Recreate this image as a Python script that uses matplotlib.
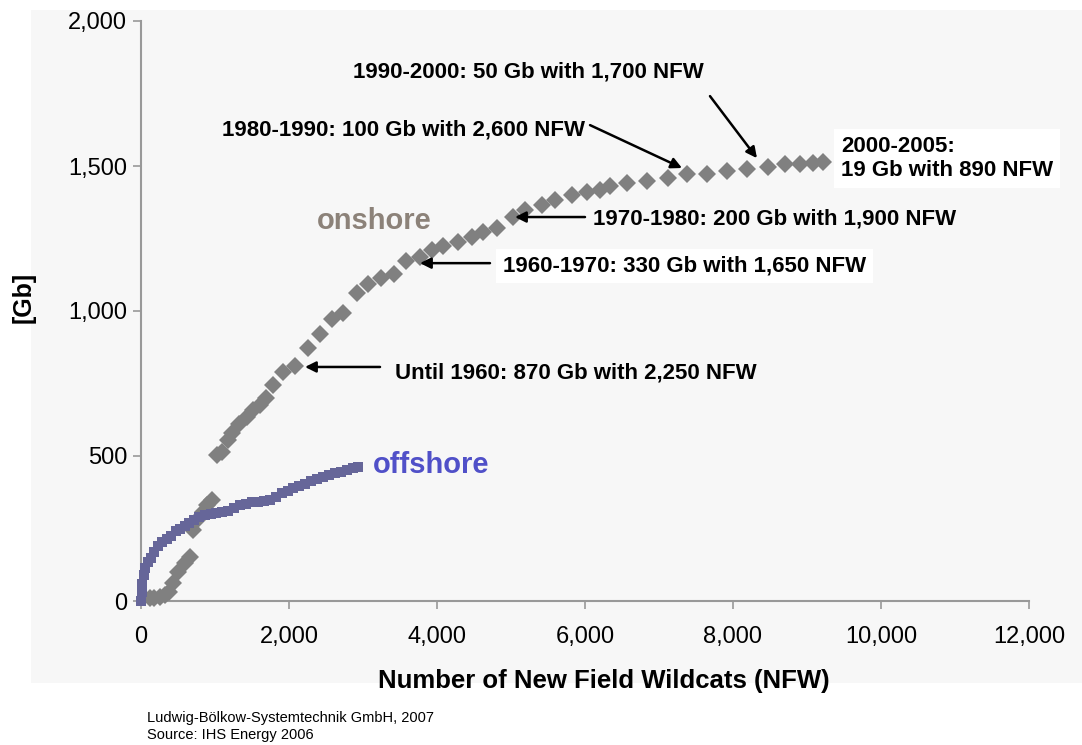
import matplotlib.pyplot as plt
from matplotlib.patches import Rectangle
from matplotlib.ticker import FuncFormatter

plt.rcParams['font.family'] = ['Liberation Sans', 'DejaVu Sans']

# Cumulative discovered volume [Gb] against cumulative new field wildcats
onshore_nfw = [120, 180, 250, 320, 380, 432, 500, 594, 662, 703, 757, 838, 892, 959,
               1027, 1094, 1175, 1230, 1330, 1432, 1513, 1608, 1689, 1784, 1918, 2081,
               2256, 2418, 2581, 2729, 2918, 3067, 3243, 3418, 3580, 3769, 3931, 4080,
               4283, 4472, 4620, 4810, 5026, 5188, 5418, 5593, 5823, 6025, 6201, 6340,
               6566, 6836, 7120, 7376, 7647, 7917, 8187, 8471, 8700, 8903, 9079, 9214]
onshore_gb = [10, 12, 15, 22, 30, 62, 100, 131, 152, 245, 279, 307, 331, 348,
              503, 514, 555, 579, 610, 634, 659, 676, 700, 745, 790, 810,
              872, 921, 972, 993, 1062, 1093, 1114, 1128, 1172, 1186, 1210, 1224,
              1238, 1255, 1272, 1286, 1324, 1348, 1365, 1383, 1400, 1410, 1417, 1430,
              1441, 1448, 1459, 1472, 1472, 1483, 1490, 1496, 1507, 1507, 1510, 1514]

offshore_nfw = [0, 10, 20, 35, 60, 90, 130, 180, 230, 290, 350, 410, 470, 530, 590,
                650, 720, 790, 860, 940, 1020, 1100, 1180, 1260, 1340, 1420, 1500,
                1580, 1660, 1740, 1820, 1900, 1980, 2060, 2140, 2220, 2300, 2380,
                2460, 2540, 2620, 2700, 2780, 2860, 2930]
offshore_gb = [0, 30, 60, 90, 115, 135, 150, 170, 190, 205, 215, 225, 240, 250, 260,
               270, 280, 288, 295, 300, 305, 308, 312, 320, 330, 336, 340,
               343, 346, 350, 360, 372, 380, 388, 395, 405, 415, 422,
               428, 433, 440, 445, 452, 458, 462]

x_ticks = [0, 2000, 4000, 6000, 8000, 10000, 12000]
y_ticks = [0, 500, 1000, 1500, 2000]

# (text, left edge / centre of text, arrow tip, arrow tail, white box)
notes = [
    ('Until 1960: 870 Gb with 2,250 NFW', (3433, 786), (2216, 807), (3230, 807), False),
    ('1960-1970: 330 Gb with 1,650 NFW', (4892, 1155), (3770, 1165), (4716, 1165), True),
    ('1970-1980: 200 Gb with 1,900 NFW', (6108, 1317), (5054, 1324), (6000, 1324), False),
    ('1980-1990: 100 Gb with 2,600 NFW', (1095, 1624), (7311, 1493), (6068, 1641), False),
    ('1990-2000: 50 Gb with 1,700 NFW', (2865, 1824), (8324, 1527), (7689, 1741), False),
    ('2000-2005:\n19 Gb with 890 NFW', (9460, 1527), None, None, True),
]

fig = plt.figure(figsize=(10.82, 7.45), dpi=100)
fig.patches.append(Rectangle((31 / 1082, 1 - 683 / 745), 1 - 31 / 1082, 673 / 745,
                             transform=fig.transFigure, facecolor='#f7f7f7',
                             edgecolor='none', zorder=-10))
ax = fig.add_axes([141 / 1082, 1 - 601 / 745, 888 / 1082, 580 / 745])
ax.set_facecolor('none')

ax.plot(onshore_nfw, onshore_gb, 'D', color='#808080', markersize=9.5,
        markeredgewidth=0, clip_on=False, zorder=3)
ax.plot(offshore_nfw, offshore_gb, 's', color='#666699', markersize=6.5,
        markeredgewidth=0, clip_on=False, zorder=4)

ax.set_xlim(0, 12000)
ax.set_ylim(0, 2000)
ax.set_xticks(x_ticks)
ax.set_yticks(y_ticks)
thousands = FuncFormatter(lambda v, p: f'{int(v):,}')
ax.xaxis.set_major_formatter(thousands)
ax.yaxis.set_major_formatter(thousands)
for side in ['top', 'right']:
    ax.spines[side].set_visible(False)
for side in ['left', 'bottom']:
    ax.spines[side].set_color('#999999')
    ax.spines[side].set_linewidth(1.5)
ax.tick_params(axis='both', colors='#999999', labelcolor='black', labelsize=17,
               length=6, width=1.2)
ax.tick_params(axis='x', pad=12)
ax.tick_params(axis='y', pad=4)

ax.set_xlabel('Number of New Field Wildcats (NFW)', fontsize=18.5, fontweight='bold',
              va='center')
ax.xaxis.set_label_coords(0.521, -0.138)
ax.set_ylabel('[Gb]', fontsize=18, fontweight='bold', va='center')
ax.yaxis.set_label_coords(-0.132, 0.524)

ax.text(2380, 1310, 'onshore', fontsize=21, fontweight='bold', color='#8c8279',
        va='center', ha='left')
ax.text(3130, 470, 'offshore', fontsize=21, fontweight='bold', color='#5050c8',
        va='center', ha='left')

for label, pos, tip, tail, boxed in notes:
    bbox = dict(facecolor='white', edgecolor='none', pad=5) if boxed else None
    ax.text(pos[0], pos[1], label, fontsize=16, fontweight='bold', ha='left',
            va='center', bbox=bbox, zorder=5, linespacing=1.2)
    if tip is not None:
        ax.annotate('', xy=tip, xytext=tail,
                    arrowprops=dict(arrowstyle='-|>', color='black', lw=1.8,
                                    mutation_scale=16, shrinkA=0, shrinkB=0),
                    zorder=6)

fig.text(147 / 1082, 1 - 718 / 745, 'Ludwig-Bölkow-Systemtechnik GmbH, 2007',
         fontsize=10.5, va='center')
fig.text(147 / 1082, 1 - 735 / 745, 'Source: IHS Energy 2006', fontsize=10.5,
         va='center')

fig.savefig('out.png', dpi=100)
